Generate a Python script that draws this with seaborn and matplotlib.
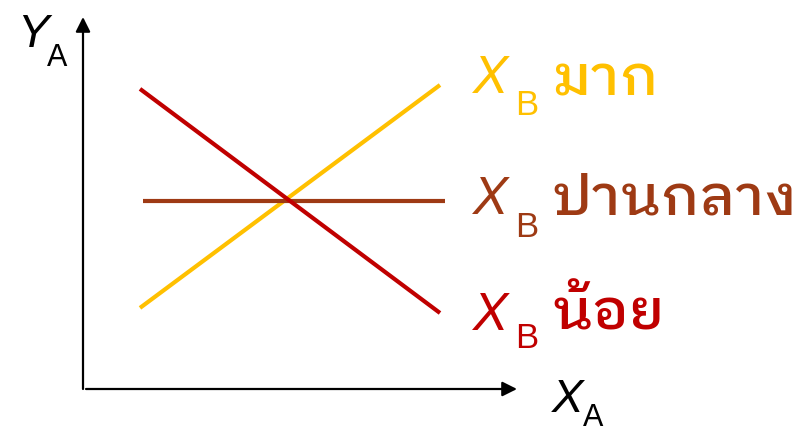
import os
import matplotlib
matplotlib.use("Agg")
import matplotlib.pyplot as plt
from matplotlib import font_manager as fm
import pandas as pd
import seaborn as sns

# ---- data (abstract units) ----
levels = ["มาก", "ปานกลาง", "น้อย"]
x_mak = [1.9, 11.9]
y_mak = [2.67, 10.1]
x_pan = [2.0, 12.07]
y_pan = [6.23, 6.23]
x_noi = [1.9, 11.9]
y_noi = [9.97, 2.5]
colors = {"มาก": "#FFC000", "ปานกลาง": "#9E3A14", "น้อย": "#C00000"}

# ---- fonts ----
files = fm.findSystemFonts()
byname = {os.path.basename(f): f for f in files}
thai_fp = None
for n in ["IBMPlexSansThaiLooped-Medium.ttf", "IBMPlexSansThaiLooped-SemiBold.ttf",
          "Sarabun-Medium.ttf", "Sarabun-SemiBold.ttf"]:
    if n in byname:
        thai_fp = fm.FontProperties(fname=byname[n])
        break

sns.set_theme(style="white")
plt.rcParams["font.family"] = ["Liberation Sans", "DejaVu Sans"]

df = pd.concat([
    pd.DataFrame({"x": x_mak, "y": y_mak, "level": levels[0]}),
    pd.DataFrame({"x": x_pan, "y": y_pan, "level": levels[1]}),
    pd.DataFrame({"x": x_noi, "y": y_noi, "level": levels[2]}),
], ignore_index=True)

fig = plt.figure(figsize=(8.03, 4.33), dpi=100)
ax = fig.add_axes([0, 0, 1, 1])
OX, OY, S = 83, 388, 30.0  # origin pixel and pixels per unit
ax.set_xlim(-OX / S, (803 - OX) / S)
ax.set_ylim(-(433 - OY) / S, OY / S)
ax.axis("off")

def px(x, y):
    return ((x - OX) / S, (OY - y) / S)

sns.lineplot(data=df, x="x", y="y", hue="level", palette=colors, legend=False,
             sort=False, estimator=None, linewidth=3.0, ax=ax)
for line in ax.lines:
    line.set_solid_capstyle("butt")

# axes arrows
ax.annotate("", xy=px(83, 17), xytext=px(83, 389),
            arrowprops=dict(arrowstyle="-|>", lw=1.6, color="black", mutation_scale=22,
                            shrinkA=0, shrinkB=0))
ax.annotate("", xy=px(517, 389), xytext=px(86, 389),
            arrowprops=dict(arrowstyle="-|>", lw=1.6, color="black", mutation_scale=22,
                            shrinkA=0, shrinkB=0))

# axis labels
ax.text(*px(17, 47), "Y", fontsize=34, style="italic", color="black", va="baseline", ha="left")
ax.text(*px(47, 66), "A", fontsize=22, color="black", va="baseline", ha="left")
ax.text(*px(552, 412), "X", fontsize=34, style="italic", color="black", va="baseline", ha="left")
ax.text(*px(583, 426), "A", fontsize=22, color="black", va="baseline", ha="left")

# line labels
rows = [("มาก", 93, 115, 95), ("ปานกลาง", 214, 237, 214), ("น้อย", 330, 348, 330)]
for lvl, bx, bb, bt in rows:
    c = colors[lvl]
    ax.text(*px(473, bx), "X", fontsize=38, style="italic", color=c, va="baseline", ha="left")
    ax.text(*px(515, bb), "B", fontsize=25, color=c, va="baseline", ha="left")
    ax.text(*px(552, bt), lvl, fontproperties=thai_fp, fontsize=41, color=c,
            va="baseline", ha="left")

fig.savefig("out.png", dpi=100)
